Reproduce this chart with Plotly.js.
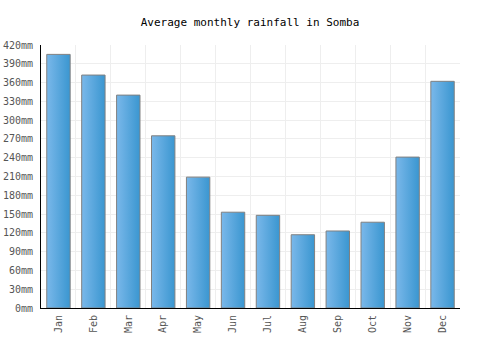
<!DOCTYPE html>
<html><head><meta charset="utf-8">
<script src="https://cdn.plot.ly/plotly-3.0.1.min.js"></script>
<style>body{margin:0;background:#fff}#c{width:500px;height:350px}</style>
</head><body><div id="c"></div>
<script>
var months = ["Jan","Feb","Mar","Apr","May","Jun","Jul","Aug","Sep","Oct","Nov","Dec"];
var rainfall = [405, 372, 340, 275, 209, 153, 148, 117, 123, 137, 241, 362];
var yTicks = [0,30,60,90,120,150,180,210,240,270,300,330,360,390,420];

var font = "DejaVu Sans Mono, monospace";
Plotly.newPlot("c", [{
  type: "bar", x: months, y: rainfall,
  marker: {color: "#5aa6de", line: {color: "#808080", width: 1}},
  hoverinfo: "none"
}], {
  width: 500, height: 350,
  margin: {l: 41, r: 40, t: 45, b: 42},
  paper_bgcolor: "#fff", plot_bgcolor: "#fff",
  bargap: 0.33,
  showlegend: false,
  title: {text: "Average monthly rainfall in Somba", font: {family: font, size: 11, color: "#000"}, x: 0.5, xanchor: "center", y: 0.937, yanchor: "middle"},
  xaxis: {
    type: "category", tickson: "boundaries", showgrid: true, gridcolor: "#eeeeee",
    showline: true, linecolor: "#000", linewidth: 1, ticks: "", tickangle: -90,
    ticklabelstandoff: 2,
    tickfont: {family: font, size: 10, color: "#555"}, fixedrange: true
  },
  yaxis: {
    range: [0, 420], tickvals: yTicks, ticktext: yTicks.map(function(v){return v + "mm";}),
    showgrid: true, gridcolor: "#eeeeee", zeroline: false,
    showline: true, linecolor: "#000", linewidth: 1, ticks: "",
    ticklabelstandoff: 5,
    tickfont: {family: font, size: 10, color: "#555"}, fixedrange: true
  }
}, {staticPlot: true}).then(function(gd){
  var svg = gd.querySelector("svg.main-svg");
  var ns = "http://www.w3.org/2000/svg";
  var defs = svg.querySelector("defs") || svg.insertBefore(document.createElementNS(ns, "defs"), svg.firstChild);
  var lg = document.createElementNS(ns, "linearGradient");
  lg.setAttribute("id", "barGrad");
  lg.setAttribute("x1", "0"); lg.setAttribute("y1", "0");
  lg.setAttribute("x2", "1"); lg.setAttribute("y2", "0");
  [["0", "#7ab8ea"], ["1", "#3a96d0"]].forEach(function(s){
    var st = document.createElementNS(ns, "stop");
    st.setAttribute("offset", s[0]); st.setAttribute("stop-color", s[1]);
    lg.appendChild(st);
  });
  defs.appendChild(lg);
  gd.querySelectorAll(".bars .point path").forEach(function(p){
    p.style.fill = "url(#barGrad)";
  });
});
</script></body></html>
